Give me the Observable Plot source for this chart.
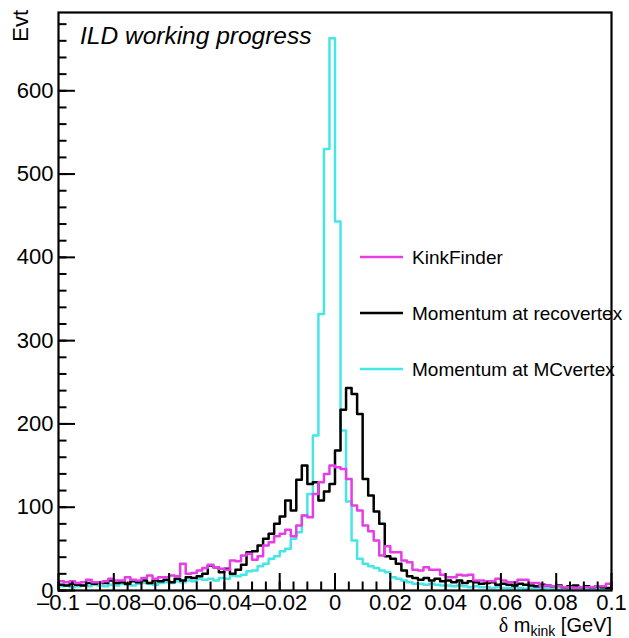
<!DOCTYPE html>
<html>
<head>
<meta charset="utf-8">
<script src="https://cdn.jsdelivr.net/npm/d3@7"></script>
<script src="https://cdn.jsdelivr.net/npm/@observablehq/plot@0.6"></script>
<style>
  html, body { margin: 0; padding: 0; background: #fff; }
  #wrap { position: relative; width: 629px; height: 638px; }
  #wrap svg.overlay { position: absolute; left: 0; top: 0; pointer-events: none; }
</style>
</head>
<body>
<div id="wrap"></div>
<script>
// Histogram definition: 100 bins from -0.1 to 0.1 GeV
const binLo = -0.1;
const binWidth = 0.002;

// KinkFinder (magenta)
const kinkFinder = [
  11, 10, 11, 9, 10, 13, 10, 10, 11, 14,
  12, 12, 16, 13, 12, 15, 18, 14, 16, 16,
  18, 17, 32, 20, 21, 24, 27, 31, 28, 26,
  25, 36, 35, 42, 44, 37, 41, 54, 58, 65,
  68, 73, 65, 78, 90, 88, 116, 130, 140, 150,
  148, 146, 134, 102, 96, 78, 71, 60, 42, 53,
  46, 46, 36, 34, 25, 24, 28, 25, 25, 19,
  16, 16, 19, 18, 19, 12, 12, 11, 11, 14,
  12, 10, 10, 13, 13, 9, 9, 5, 6, 5,
  5, 4, 4, 3, 4, 4, 4, 5, 5, 8
];

// Momentum at recovertex (black)
const recoVertex = [
  7, 6, 8, 7, 6, 9, 8, 10, 9, 12,
  9, 10, 8, 11, 10, 12, 9, 12, 11, 13,
  10, 14, 12, 16, 15, 17, 20, 30, 28, 22,
  26, 20, 25, 31, 46, 47, 54, 62, 68, 80,
  89, 108, 96, 133, 150, 128, 130, 108, 119, 128,
  168, 217, 243, 236, 212, 134, 114, 95, 80, 41,
  38, 32, 24, 17, 15, 13, 15, 12, 14, 11,
  12, 10, 12, 9, 11, 10, 8, 9, 10, 7,
  8, 7, 6, 8, 7, 6, 5, 7, 6, 5,
  6, 4, 5, 6, 4, 5, 4, 5, 4, 3
];

// Momentum at MCvertex (cyan)
const mcVertex = [
  5, 6, 4, 5, 6, 5, 7, 6, 5, 7,
  6, 8, 7, 6, 8, 9, 8, 7, 9, 10,
  9, 11, 10, 12, 11, 14, 13, 14, 12, 15,
  14, 18, 17, 19, 23, 24, 29, 32, 38, 41,
  47, 50, 62, 70, 90, 116, 186, 332, 530, 663,
  443, 192, 107, 60, 38, 32, 29, 27, 24, 22,
  16, 14, 12, 10, 8, 8, 7, 8, 7, 6,
  6, 5, 6, 5, 4, 5, 4, 4, 3, 4,
  3, 3, 4, 3, 2, 3, 3, 2, 3, 2,
  2, 3, 2, 2, 1, 2, 2, 1, 2, 1
];

const seriesNames = ["KinkFinder", "Momentum at recovertex", "Momentum at MCvertex"];
const seriesColors = ["#e63ee6", "#000000", "#46e6e6"];

const xMajorTicks = [-0.1, -0.08, -0.06, -0.04, -0.02, 0, 0.02, 0.04, 0.06, 0.08, 0.1];
const xTickLabels = ["\u20130.1", "\u20130.08", "\u20130.06", "\u20130.04", "\u20130.02", "0", "0.02", "0.04", "0.06", "0.08", "0.1"];
const yMajorTicks = [0, 100, 200, 300, 400, 500, 600];
const yTickLabels = ["0", "100", "200", "300", "400", "500", "600"];
const xMinorTicks = d3.range(0, 41).map(i => -0.1 + i * 0.005);
const yMinorTicks = d3.range(0, 35).map(i => i * 20);

const yMax = 694;

function steps(values) {
  const pts = values.map((v, i) => ({x: binLo + i * binWidth, y: v}));
  pts.push({x: binLo + values.length * binWidth, y: values[values.length - 1]});
  return pts;
}

const W = 629, H = 638;
const mL = 58, mR = 18, mT = 12, mB = 48;
const frameW = W - mL - mR, frameH = H - mT - mB;
const font = "'Liberation Sans', Arial, Helvetica, sans-serif";
const lw = 2.5;

const chart = Plot.plot({
  width: W,
  height: H,
  marginLeft: mL,
  marginRight: mR,
  marginTop: mT,
  marginBottom: mB,
  x: {domain: [-0.1, 0.1]},
  y: {domain: [0, yMax]},
  style: {fontFamily: font, fontSize: "22px", color: "black", background: "white", overflow: "visible"},
  marks: [
    Plot.line(steps(mcVertex), {x: "x", y: "y", curve: "step-after", stroke: seriesColors[2], strokeWidth: lw, clip: true}),
    Plot.line(steps(recoVertex), {x: "x", y: "y", curve: "step-after", stroke: seriesColors[1], strokeWidth: lw, clip: true}),
    Plot.line(steps(kinkFinder), {x: "x", y: "y", curve: "step-after", stroke: seriesColors[0], strokeWidth: lw, clip: true}),
    // inward ticks (ROOT style)
    Plot.ruleX(xMinorTicks, {x: d => d, insetTop: frameH - 8.5, stroke: "black", strokeWidth: 2}),
    Plot.ruleX(xMajorTicks, {x: d => d, insetTop: frameH - 17, stroke: "black", strokeWidth: 2}),
    Plot.ruleY(yMinorTicks, {y: d => d, insetRight: frameW - 8.5, stroke: "black", strokeWidth: 2}),
    Plot.ruleY(yMajorTicks, {y: d => d, insetRight: frameW - 17, stroke: "black", strokeWidth: 2}),
    Plot.axisX(xMajorTicks, {anchor: "bottom", tickSize: 0, tickPadding: 4, fontSize: 22, label: null,
      tickFormat: d => xTickLabels[xMajorTicks.indexOf(d)]}),
    Plot.axisY(yMajorTicks, {anchor: "left", tickSize: 0, tickPadding: 5, fontSize: 22, label: null,
      tickFormat: d => yTickLabels[yMajorTicks.indexOf(d)]}),
    Plot.frame({stroke: "black", strokeWidth: 2.2})
  ]
});

const wrap = document.getElementById("wrap");
wrap.appendChild(chart);

// Overlay: title, axis titles, legend
const ns = "http://www.w3.org/2000/svg";
const ov = document.createElementNS(ns, "svg");
ov.setAttribute("class", "overlay");
ov.setAttribute("width", W);
ov.setAttribute("height", H);
ov.setAttribute("font-family", font);
wrap.appendChild(ov);

function el(tag, attrs, text) {
  const e = document.createElementNS(ns, tag);
  for (const k in attrs) e.setAttribute(k, attrs[k]);
  if (text != null) e.textContent = text;
  return e;
}

// title
ov.appendChild(el("text", {x: 80, y: 44, "font-size": 24.5, "font-style": "italic", fill: "black"}, "ILD working progress"));

// y-axis title
ov.appendChild(el("text", {transform: "translate(28,10) rotate(-90)", "text-anchor": "end", "font-size": 22, fill: "black"}, "Evt"));

// x-axis title with subscript
const xt = el("text", {x: 612, y: 632, "text-anchor": "end", "font-size": 20, fill: "black"});
xt.appendChild(el("tspan", {"font-family": "'Liberation Serif', 'Times New Roman', serif"}, "\u03b4"));
xt.appendChild(el("tspan", {}, " m"));
xt.appendChild(el("tspan", {"font-size": 14, dy: 4}, "kink"));
xt.appendChild(el("tspan", {dy: -4}, " [GeV]"));
ov.appendChild(xt);

// legend
const legendY = [257, 313, 369];
seriesNames.forEach((name, i) => {
  ov.appendChild(el("line", {x1: 360, x2: 403, y1: legendY[i], y2: legendY[i], stroke: seriesColors[i], "stroke-width": 2.5}));
  ov.appendChild(el("text", {x: 412, y: legendY[i], "dominant-baseline": "central", "font-size": 19, fill: "black"}, name));
});
</script>
</body>
</html>
